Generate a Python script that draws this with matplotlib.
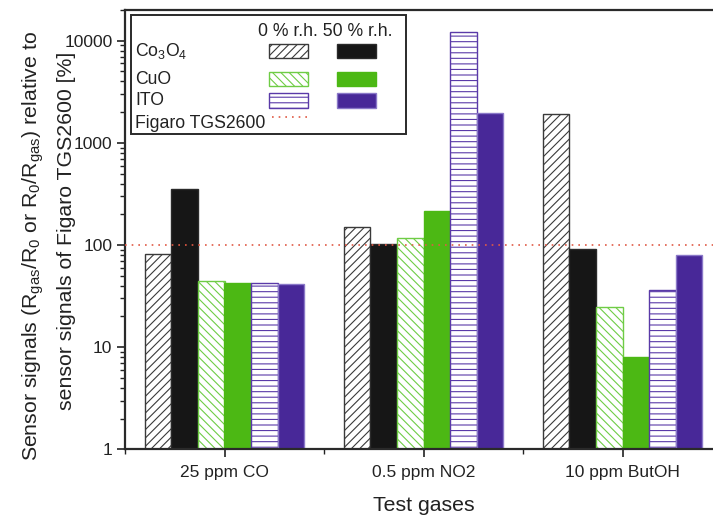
import numpy as np
import matplotlib
matplotlib.use('Agg')
import matplotlib.pyplot as plt
from matplotlib.patches import Rectangle
from matplotlib.lines import Line2D
from matplotlib.ticker import FixedLocator

plt.rcParams['font.family'] = ['Liberation Sans', 'DejaVu Sans']
plt.rcParams['mathtext.fontset'] = 'custom'
plt.rcParams['mathtext.rm'] = 'Liberation Sans'
plt.rcParams['mathtext.it'] = 'Liberation Sans'
plt.rcParams['hatch.linewidth'] = 0.8

# Data (sensor signal relative to Figaro TGS2600, %)
gases = ['25 ppm CO', '0.5 ppm NO2', '10 ppm ButOH']
co3o4_dry = [80, 150, 1900]
co3o4_wet = [350, 101, 91]
cuo_dry = [43.5, 115, 24]
cuo_wet = [41.5, 213, 7.1]
ito_dry = [41.7, 12200, 35]
ito_wet = [41, 1950, 78]
figaro_ref = 100

# styles: (face, edge, hatch)
black = '#161616'
green = '#4cb814'
green_h = '#6fcc45'
purple = '#482898'
purple_h = '#5a3aa8'
series = [
    (co3o4_dry, 'white', '#3a3a3a', '////'),
    (co3o4_wet, black, '#2a2a2a', None),
    (cuo_dry, 'white', green_h, '\\\\\\\\'),
    (cuo_wet, green, green, None),
    (ito_dry, 'white', purple_h, '---'),
    (ito_wet, purple, '#8a78c8', None),
]
red_dot = '#e05a46'
txt = '#222222'

W, H = 713, 516
fig = plt.figure(figsize=(W / 100, H / 100), dpi=100)


def fx(x):
    return x / W


def fy(y):
    return 1 - y / H


ax = fig.add_axes([fx(125), fy(449.3), fx(722) - fx(125), fy(10) - fy(449.3)])
ax.set_yscale('log')

x = np.arange(1, len(gases) + 1)
width = 0.134
for i, (vals, face, edge, hatch) in enumerate(series):
    ax.bar(x + (i - 2.5) * width, vals, width, bottom=1, color=face,
           edgecolor=edge, hatch=hatch, linewidth=1.0, zorder=2)

ax.axhline(figaro_ref, color=red_dot, lw=1.2, ls=(0, (1, 3)), zorder=3)

ax.set_ylim(1, 2e4)
ax.set_xlim(0.5, 3.5)
ax.set_xticks(x)
ax.set_xticklabels(gases)
ax.xaxis.set_minor_locator(FixedLocator([0.5, 1.5, 2.5, 3.5]))
ax.set_yticks([1, 10, 100, 1000, 10000])
ax.set_yticklabels(['1', '10', '100', '1000', '10000'])

ax.tick_params(axis='both', which='major', labelsize=12.5, length=6,
               width=1.2, colors=txt, direction='out')
ax.tick_params(axis='both', which='minor', length=3.5, width=1.0,
               direction='out', colors=txt)
ax.tick_params(axis='x', which='major', pad=5.5)
ax.tick_params(axis='y', which='major', pad=3)
for sp in ax.spines.values():
    sp.set_linewidth(1.6)
    sp.set_color('#2a2a2a')

ax.set_xlabel('Test gases', fontsize=15.3, color=txt, labelpad=11)

# two-line y label, placed line by line
fig.text(fx(37.5), fy(246),
         'Sensor signals (R$_{\\mathrm{gas}}$/R$_0$ or R$_0$/R$_{\\mathrm{gas}}$) relative to',
         rotation=90, rotation_mode='anchor', ha='center', va='baseline',
         fontsize=15.3, color=txt)
fig.text(fx(72), fy(231), 'sensor signals of Figaro TGS2600 [%]',
         rotation=90, rotation_mode='anchor', ha='center', va='baseline',
         fontsize=15.3, color=txt)

# legend drawn by hand to match the two-column layout
box = Rectangle((fx(131), fy(134)), fx(406) - fx(131), fy(15) - fy(134),
                transform=fig.transFigure, facecolor='white',
                edgecolor='#2a2a2a', linewidth=1.4, zorder=5)
fig.add_artist(box)
fig.text(fx(258), fy(31), '0 % r.h. 50 % r.h.', fontsize=12.7,
         color=txt, va='center', ha='left', zorder=6)
rows = [('Co$_3$O$_4$', 51, series[0], series[1]),
        ('CuO', 79, series[2], series[3]),
        ('ITO', 100.5, series[4], series[5])]
for label, yc, s_dry, s_wet in rows:
    fig.text(fx(135), fy(yc), label, fontsize=12.7, color=txt,
             va='center', ha='left', zorder=6)
    for (xl, s) in [(269, s_dry), (337, s_wet)]:
        r = Rectangle((fx(xl), fy(yc + 7)), fx(39), 14 / H,
                      transform=fig.transFigure, facecolor=s[1],
                      edgecolor=s[2], hatch=s[3], linewidth=1.0, zorder=6)
        fig.add_artist(r)
fig.text(fx(135), fy(123), 'Figaro TGS2600', fontsize=12.7, color=txt,
         va='center', ha='left', zorder=6)
fig.add_artist(Line2D([fx(272), fx(308)], [fy(117), fy(117)],
                      transform=fig.transFigure, color=red_dot, lw=1.2,
                      ls=(0, (1, 3)), zorder=6))

fig.savefig('out.png', dpi=100)
